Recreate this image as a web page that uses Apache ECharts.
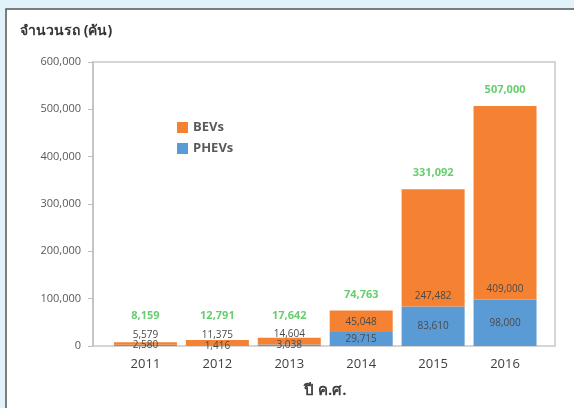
<!DOCTYPE html>
<html>
<head>
<meta charset="utf-8">
<script src="https://cdn.jsdelivr.net/npm/echarts@6/dist/echarts.min.js"></script>
<style>html,body{margin:0;padding:0;}#c{width:574px;height:408px;}</style>
</head>
<body>
<div id="c"></div>
<script>
const years = ['2011', '2012', '2013', '2014', '2015', '2016'];
const phevs = [2580, 1416, 3038, 29715, 83610, 98000];
const bevs = [5579, 11375, 14604, 45048, 247482, 409000];
const totals = [8159, 12791, 17642, 74763, 331092, 507000];
const yTicks = [0, 100000, 200000, 300000, 400000, 500000, 600000];
const legendNames = ['BEVs', 'PHEVs'];
const titleText = 'จำนวนรถ (คัน)';
const xName = 'ปี ค.ศ.';

const fmt = v => Number(v).toLocaleString('en-US');
const FONT = '"Open Sans", "Noto Sans", "DejaVu Sans", sans-serif';
const gridTop = 62, gridBottom = 62, chartH = 408;
const gridH = chartH - gridTop - gridBottom;
const yMax = yTicks[yTicks.length - 1];
const pxPerUnit = gridH / yMax;
const LABEL_FLOOR = 29600;

const chart = echarts.init(document.getElementById('c'));
chart.setOption({
  backgroundColor: '#e1f2fa',
  animation: false,
  textStyle: { fontFamily: FONT },
  graphic: [
    { type: 'rect', z: -10, shape: { x: 6, y: 9, width: 600, height: 420 },
      style: { fill: '#ffffff', stroke: '#555555', lineWidth: 1.5 } },
    { type: 'rect', z: -5, shape: { x: 93, y: 62, width: 462, height: 284 },
      style: { fill: 'none', stroke: '#c8c8c8', lineWidth: 1.5 } },
    { type: 'text', z: 10, left: 20, top: 24,
      style: { text: titleText, fontSize: 14, fontWeight: 'bold', fill: '#333333', fontFamily: FONT } }
  ],
  legend: {
    data: legendNames,
    orient: 'vertical',
    left: 172, top: 116,
    itemWidth: 11, itemHeight: 11, itemGap: 8,
    icon: 'rect',
    textStyle: { fontSize: 13, fontWeight: 'bold', color: '#595959', fontFamily: FONT }
  },
  grid: { left: 109.5, right: 33, top: gridTop, bottom: gridBottom, containLabel: false },
  xAxis: {
    type: 'category', data: years,
    axisLine: { show: false }, axisTick: { show: false },
    axisLabel: { fontSize: 13, color: '#404040', margin: 12, fontFamily: FONT },
    name: xName, nameLocation: 'middle', nameGap: 37,
    nameTextStyle: { fontSize: 15, fontWeight: 'bold', color: '#404040', fontFamily: FONT }
  },
  yAxis: {
    type: 'value', min: 0, max: yMax, interval: yTicks[1] - yTicks[0],
    offset: 16.5,
    axisLine: { show: true, lineStyle: { color: '#bfbfbf', width: 1.5 } },
    axisTick: { show: true, length: 5, lineStyle: { color: '#bfbfbf' } },
    splitLine: { show: false },
    axisLabel: { fontSize: 11, color: '#595959', margin: 12, formatter: fmt, fontFamily: FONT }
  },
  series: [
    {
      name: 'PHEVs', type: 'bar', stack: 'ev', data: phevs, barWidth: 63,
      itemStyle: { color: '#5b9bd5' },
      label: { show: true, position: 'inside', fontSize: 10, color: '#4a4a4a', formatter: p => fmt(p.value) }
    },
    {
      name: 'BEVs', type: 'bar', stack: 'ev', data: bevs, barWidth: 63,
      itemStyle: { color: '#f58232' },
      label: { show: true, position: 'insideBottom', fontSize: 10, color: '#4a4a4a', formatter: p => fmt(p.value) }
    },
    {
      name: 'Total', type: 'scatter', symbolSize: 1,
      itemStyle: { color: 'rgba(0,0,0,0)' },
      data: totals.map(v => ({
        value: v,
        label: { offset: [0, -Math.max(0, LABEL_FLOOR - v) * pxPerUnit] }
      })),
      label: { show: true, position: 'top', distance: 10, fontSize: 11, fontWeight: 'bold', color: '#40c24a', formatter: p => fmt(p.value) }
    }
  ]
});
</script>
</body>
</html>
